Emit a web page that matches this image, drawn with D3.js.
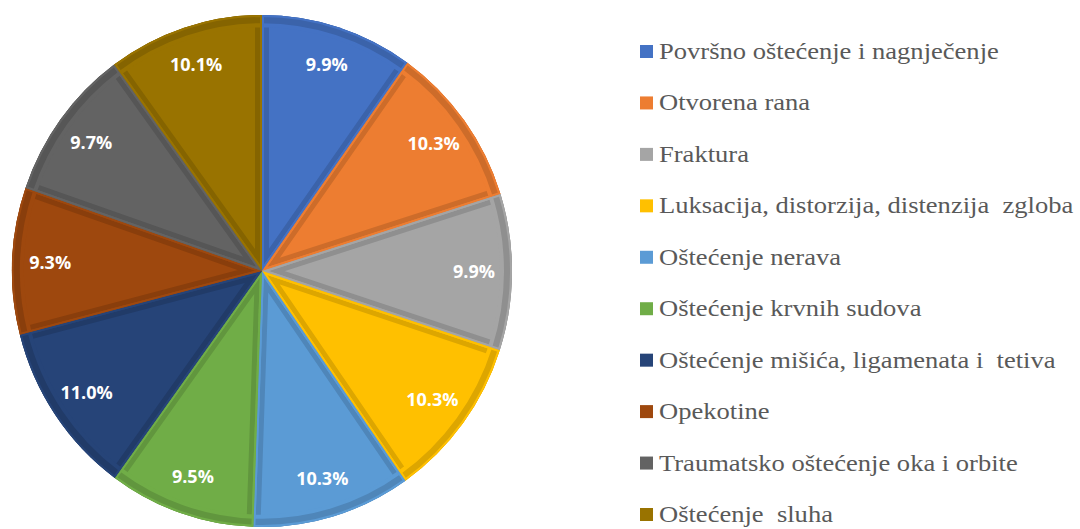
<!DOCTYPE html>
<html>
<head>
<meta charset="utf-8">
<script src="https://cdn.jsdelivr.net/npm/d3@7"></script>
<style>
  body { margin: 0; background: #fff; }
  .legend-text { font-family: "Liberation Serif", "Tinos", "Times New Roman", "Noto Serif", "Nimbus Roman", "FreeSerif", "DejaVu Serif", serif; }
</style>
</head>
<body>
<svg id="chart" width="1080" height="529"></svg>
<script>
const categories = [
    "Površno oštećenje i nagnječenje",
    "Otvorena rana",
    "Fraktura",
    "Luksacija, distorzija, distenzija  zgloba",
    "Oštećenje nerava",
    "Oštećenje krvnih sudova",
    "Oštećenje mišića, ligamenata i  tetiva",
    "Opekotine",
    "Traumatsko oštećenje oka i orbite",
    "Oštećenje  sluha"
]
const values = [9.9, 10.3, 9.9, 10.3, 10.3, 9.5, 11.0, 9.3, 9.7, 10.1]
const slice_colors = ["#4472c4", "#ed7d31", "#a5a5a5", "#ffc000", "#5b9bd5",
                      "#70ad47", "#264478", "#9e480e", "#636363", "#997300"]

const cx = 262
const cy = 271
const radius = 250
const stretch_y = 1.024
const label_radius = 212

var svg = d3.select("#chart")
var data = categories.map((c, i) => ({ name: c, value: values[i], color: slice_colors[i] }))

var pie = d3.pie()
    .value(d => d.value)
    .sort(null)

var arc = d3.arc()
    .innerRadius(0)
    .outerRadius(radius)

var pie_g = svg.append("g")
    .attr("transform", "translate(" + cx + "," + cy + ") scale(1," + stretch_y + ")")

var defs = svg.append("defs")
var arcs = pie(data)

arcs.forEach(function (d, i) {
    defs.append("clipPath")
        .attr("id", "clip" + i)
        .append("path")
        .attr("d", arc(d))
})

// slice fill
pie_g.selectAll("path.slice")
    .data(arcs)
    .join("path")
    .attr("class", "slice")
    .attr("d", arc)
    .attr("fill", d => d.data.color)

// darker inner band along each slice edge
pie_g.selectAll("path.band")
    .data(arcs)
    .join("path")
    .attr("class", "band")
    .attr("d", d3.arc().innerRadius(0).outerRadius(radius - 2))
    .attr("fill", "none")
    .attr("stroke", d => d3.color(d.data.color).darker(0.4))
    .attr("stroke-width", 14)
    .attr("clip-path", (d, i) => "url(#clip" + i + ")")

pie_g.selectAll("path.band2")
    .data(arcs)
    .join("path")
    .attr("class", "band2")
    .attr("d", d3.arc().innerRadius(0).outerRadius(radius - 10))
    .attr("fill", "none")
    .attr("stroke", d => d.data.color)
    .attr("stroke-width", 4)
    .attr("clip-path", (d, i) => "url(#clip" + i + ")")

pie_g.selectAll("path.edge")
    .data(arcs)
    .join("path")
    .attr("class", "edge")
    .attr("d", arc)
    .attr("fill", "none")
    .attr("stroke", d => d.data.color)
    .attr("stroke-width", 4)
    .attr("clip-path", (d, i) => "url(#clip" + i + ")")

// percentage labels
svg.append("g")
    .selectAll("text")
    .data(arcs)
    .join("text")
    .attr("x", d => cx + Math.sin((d.startAngle + d.endAngle) / 2) * label_radius)
    .attr("y", d => cy - Math.cos((d.startAngle + d.endAngle) / 2) * label_radius * stretch_y)
    .attr("dy", "0.35em")
    .attr("text-anchor", "middle")
    .attr("font-family", "'Open Sans', sans-serif")
    .attr("font-weight", 700)
    .attr("font-size", 18)
    .attr("fill", "#ffffff")
    .text(d => d.data.value.toFixed(1) + "%")

// legend
var legend_y = d3.scalePoint()
    .domain(categories)
    .range([51, 514])

var legend = svg.append("g")
    .selectAll("g")
    .data(data)
    .join("g")
    .attr("transform", d => "translate(640," + legend_y(d.name) + ")")

legend.append("rect")
    .attr("x", 0)
    .attr("y", -6)
    .attr("width", 13)
    .attr("height", 13)
    .attr("fill", d => d.color)

var legend_text = legend.append("text")
    .attr("class", "legend-text")
    .attr("font-size", 23)
    .attr("fill", "#595959")
    .style("white-space", "pre")
    .text(d => d.name)

// the reference legend is a bit wider than the font renders: stretch to fit
var first_w = legend_text.node().getComputedTextLength()
var sx = 340 / first_w
legend_text.attr("transform", "translate(19,8) scale(" + sx + ",1)")
</script>
</body>
</html>
